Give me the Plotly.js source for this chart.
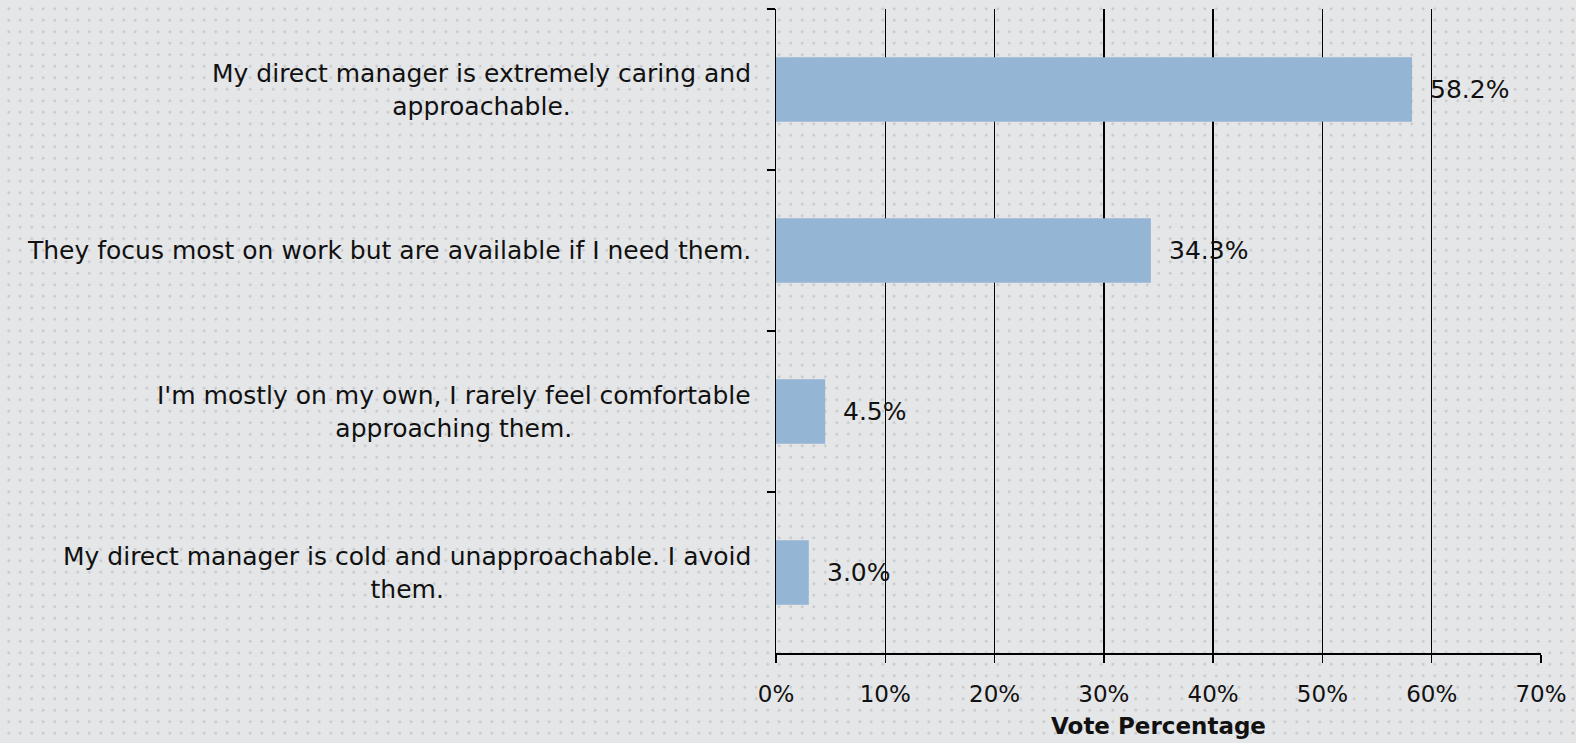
<!DOCTYPE html>
<html>
<head>
<meta charset="utf-8">
<script src="https://cdn.plot.ly/plotly-3.0.1.min.js"></script>
<style>
  html, body { margin: 0; padding: 0; }
  body {
    width: 1576px; height: 743px; overflow: hidden;
    background-color: #e5e6e8;
    background-image: radial-gradient(circle, #c6c7ca 1.1px, transparent 1.7px);
    background-size: 11.5px 11.5px;
    background-position: 3px 3px;
  }
  #chart { width: 1576px; height: 743px; }
</style>
</head>
<body>
<div id="chart"></div>
<script>
const categories = [
  "My direct manager is extremely caring and<br>approachable.",
  "They focus most on work but are available if I need them.",
  "I'm mostly on my own, I rarely feel comfortable<br>approaching them.",
  "My direct manager is cold and unapproachable. I avoid<br>them."
];
const votePercent = [58.2, 34.3, 4.5, 3.0];
const valueLabels = ["58.2%", "34.3%", "4.5%", "3.0%"];
const xTickValues = [0, 10, 20, 30, 40, 50, 60, 70];
const xTickLabels = ["0%", "10%", "20%", "30%", "40%", "50%", "60%", "70%"];
const xAxisTitle = "Vote Percentage";

const FONT = "'DejaVu Sans', sans-serif";

const trace = {
  type: 'bar',
  orientation: 'h',
  x: votePercent,
  y: categories,
  width: 0.4,
  marker: { color: '#94b5d3', line: { width: 0 } },
  hoverinfo: 'skip'
};

const annotations = [];
categories.forEach((c, i) => {
  annotations.push({
    xref: 'paper', yref: 'y', x: 0, y: c,
    xanchor: 'right', yanchor: 'middle', xshift: -23,
    text: c, showarrow: false, align: 'center',
    font: { family: FONT, size: 25, color: '#111' }
  });
  annotations.push({
    xref: 'x', yref: 'y', x: votePercent[i], y: c,
    xanchor: 'left', yanchor: 'middle', xshift: 16,
    text: valueLabels[i], showarrow: false,
    font: { family: FONT, size: 25, color: '#111' }
  });
});

const layout = {
  width: 1576, height: 743,
  paper_bgcolor: 'rgba(0,0,0,0)',
  plot_bgcolor: 'rgba(0,0,0,0)',
  margin: { l: 776, r: 35, t: 9, b: 90, pad: 0 },
  showlegend: false,
  bargap: 0.6,
  font: { family: FONT, color: '#111' },
  xaxis: {
    range: [0, 70],
    tickvals: xTickValues,
    ticktext: xTickLabels,
    showgrid: true, gridcolor: '#000', gridwidth: 1.5,
    zeroline: false,
    showline: true, linecolor: '#000', linewidth: 1.5,
    ticks: 'outside', ticklen: 8, tickwidth: 1.5, tickcolor: '#000',
    ticklabelstandoff: 12,
    tickfont: { family: FONT, size: 23, color: '#111' },
    title: { text: '<b>' + xAxisTitle + '</b>', font: { family: FONT, size: 23, color: '#111' }, standoff: 12 },
    fixedrange: true
  },
  yaxis: {
    type: 'category',
    categoryorder: 'array', categoryarray: categories,
    autorange: 'reversed',
    tickson: 'boundaries',
    showticklabels: false,
    showgrid: false, zeroline: false,
    showline: true, linecolor: '#000', linewidth: 1.5,
    ticks: 'outside', ticklen: 8, tickwidth: 1.5, tickcolor: '#000',
    fixedrange: true
  },
  annotations: annotations
};

Plotly.newPlot('chart', [trace], layout, { displayModeBar: false, staticPlot: true });
</script>
</body>
</html>
